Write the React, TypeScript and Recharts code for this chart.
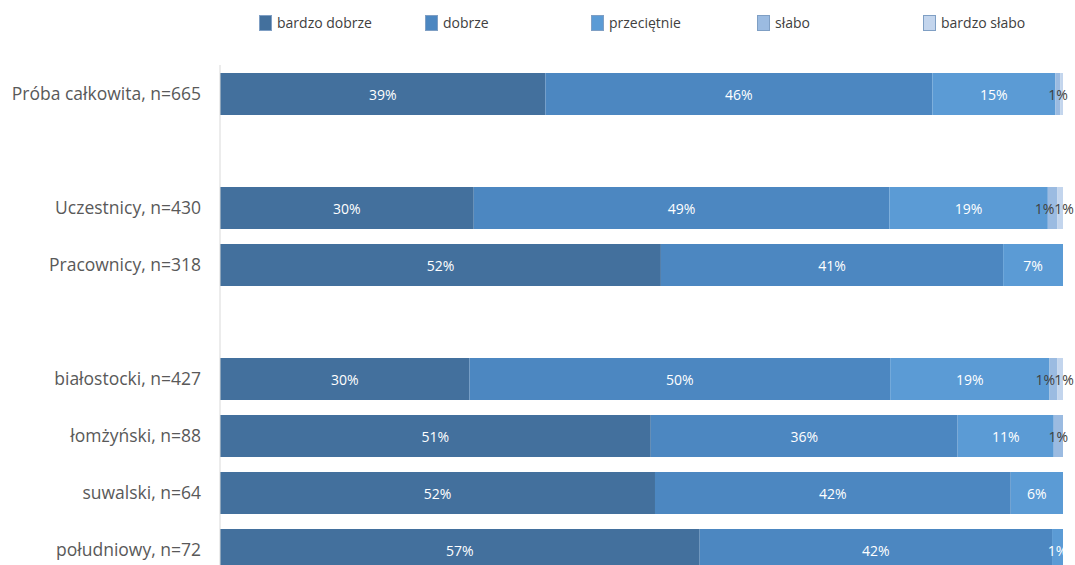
import { Bar, BarChart, LabelList, Legend, XAxis, YAxis } from "recharts";

const categories = [
  "Próba całkowita, n=665",
  "",
  "Uczestnicy, n=430",
  "Pracownicy, n=318",
  " ",
  "białostocki, n=427",
  "łomżyński, n=88",
  "suwalski, n=64",
  "południowy, n=72",
];

const seriesNames = ["bardzo dobrze", "dobrze", "przeciętnie", "słabo", "bardzo słabo"];

// the two empty rows are spacers between groups
const bardzoDobrze = [38.6, 0, 30.1, 52.3, 0, 29.6, 51.1, 51.6, 56.9];
const dobrze = [45.9, 0, 49.3, 40.6, 0, 49.9, 36.4, 42.2, 41.8];
const przecietnie = [14.6, 0, 18.8, 7.1, 0, 18.9, 11.4, 6.2, 1.3];
const slabo = [0.6, 0, 1.1, 0, 0, 0.9, 1.1, 0, 0];
const bardzoSlabo = [0.3, 0, 0.7, 0, 0, 0.7, 0, 0, 0];

const seriesValues = [bardzoDobrze, dobrze, przecietnie, slabo, bardzoSlabo];
const colors = ["#43709d", "#4c87c1", "#5b9bd5", "#9bbbe1", "#c3d5ed"];
const labelColors = ["#ffffff", "#ffffff", "#ffffff", "#404040", "#404040"];

const data = categories.map((name, i) => {
  const row: Record<string, string | number> = { name, row: i };
  seriesNames.forEach((s, k) => {
    row[s] = seriesValues[k][i];
  });
  return row;
});

const font = "'Open Sans', sans-serif";

const shown = (v: number | null | undefined) => v != null && Math.round(v) >= 1;

// label value carries the row number so neighbouring small labels can be pushed apart
const labelKey = (s: string) => (r: any) => `${r[s]}|${r.row}`;

const makeLabel = (k: number) => (props: any) => {
  const { x, y, width, height, value } = props;
  const [raw, rowStr] = String(value).split("|");
  const v = Number(raw);
  const i = Number(rowStr);
  if (!shown(v)) return null;
  let dx = 0;
  if (k === 3 && shown(bardzoSlabo[i])) dx = -8;
  if (k === 4 && shown(slabo[i])) dx = 4;
  return (
    <text
      x={x + width / 2 + dx}
      y={y + height / 2}
      fill={labelColors[k]}
      fontSize={14}
      fontFamily={font}
      textAnchor="middle"
      dominantBaseline="central"
    >
      {`${Math.round(v)}%`}
    </text>
  );
};

const LegendContent = () => (
  <div style={{ display: "flex", fontFamily: font, fontSize: 14, color: "#404040" }}>
    {seriesNames.map((s, k) => (
      <div key={s} style={{ width: 166, display: "flex", alignItems: "center" }}>
        <span
          style={{
            display: "inline-block",
            width: 13,
            height: 16,
            background: colors[k],
            border: "1px solid #7f9fc4",
            marginRight: 5,
            boxSizing: "border-box",
          }}
        />
        {s}
      </div>
    ))}
  </div>
);

export default function App() {
  return (
    <div style={{ position: "absolute", left: 0, top: 0, background: "#fff" }}>
      <BarChart
        width={1075}
        height={578}
        data={data}
        layout="vertical"
        barSize={42}
        margin={{ top: 46, right: 12, left: 0, bottom: 0 }}
      >
        <XAxis type="number" domain={[0, 100]} hide allowDataOverflow />
        <YAxis
          type="category"
          dataKey="name"
          width={220}
          axisLine={{ stroke: "#d9d9d9" }}
          tickLine={false}
          tickMargin={13}
          tick={{ fill: "#595959", fontSize: 17.5, fontFamily: font }}
        />
        <Legend
          verticalAlign="top"
          content={<LegendContent />}
          wrapperStyle={{ top: 13, left: 259, width: 830 }}
        />
        {seriesNames.map((s, k) => (
          <Bar key={s} dataKey={s} stackId="a" fill={colors[k]} isAnimationActive={false}>
            <LabelList dataKey={labelKey(s)} content={makeLabel(k)} />
          </Bar>
        ))}
      </BarChart>
    </div>
  );
}
